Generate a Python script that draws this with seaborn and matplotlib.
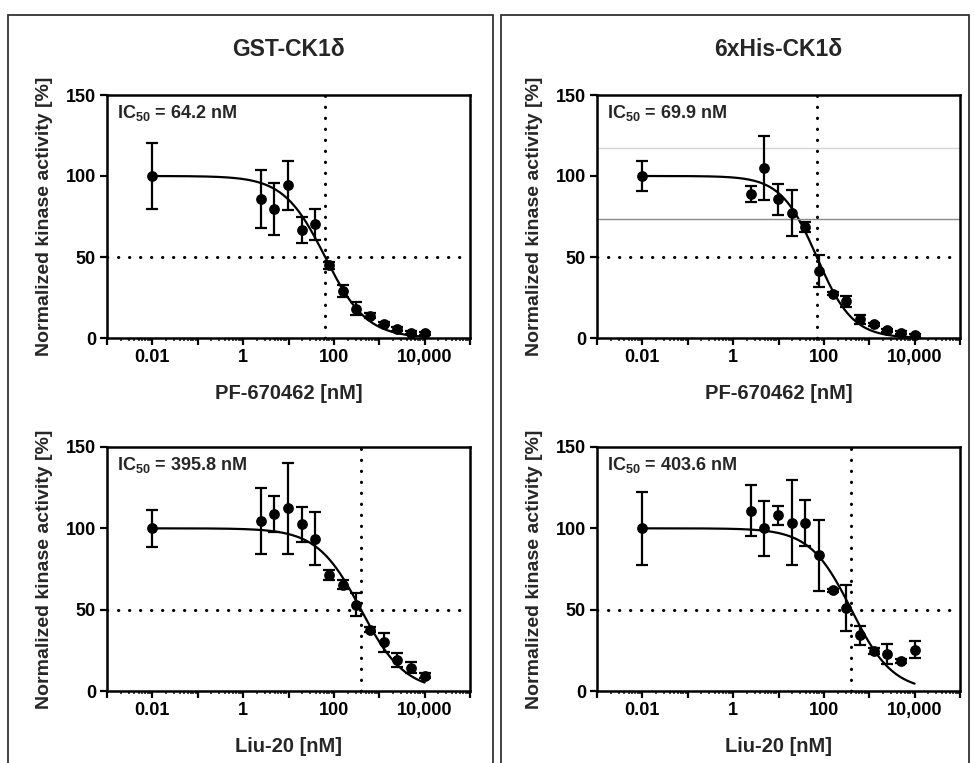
import numpy as np
import pandas as pd
import matplotlib
matplotlib.use("Agg")
import matplotlib.pyplot as plt
import matplotlib.ticker as mticker
from matplotlib.patches import Rectangle
import seaborn as sns

# concentrations (nM), 2-fold dilution series plus the 0.01 nM control
conc = [0.01, 2.44, 4.88, 9.77, 19.5, 39.1, 78.1, 156, 313, 625, 1250, 2500, 5000, 10000]

gst_pf = [100, 85.6, 79.4, 94.2, 66.9, 70.2, 44.9, 29.0, 18.1, 13.8, 8.8, 5.6, 3.3, 3.0]
gst_pf_err = [20.6, 17.8, 16.0, 15.3, 8.0, 9.4, 2.0, 3.5, 4.0, 1.5, 1.0, 1.0, 1.0, 1.0]
his_pf = [100, 89.1, 104.9, 85.6, 77.4, 68.5, 41.2, 27.4, 22.8, 11.5, 8.4, 4.7, 3.3, 1.6]
his_pf_err = [9.0, 5.0, 19.5, 9.4, 14.2, 2.8, 10.0, 1.0, 3.4, 3.0, 1.0, 1.0, 1.0, 1.0]
gst_liu = [100, 104.5, 108.6, 112.3, 102.5, 93.6, 71.2, 65.4, 53.1, 37.7, 30.0, 19.1, 14.4, 9.5]
gst_liu_err = [11.3, 20.0, 11.0, 27.8, 10.8, 16.2, 3.0, 3.0, 7.0, 1.5, 5.9, 4.5, 3.5, 1.5]
his_liu = [100, 110.7, 100, 108, 103.5, 103.5, 83.3, 61.9, 51.0, 34.2, 24.7, 22.8, 18.5, 25.3]
his_liu_err = [22.6, 15.7, 17.0, 5.9, 26.3, 14.2, 21.7, 1.0, 13.9, 5.9, 2.0, 6.0, 1.0, 5.3]

ic50 = [64.2, 69.9, 395.8, 403.6]
hill = [0.95, 1.1, 0.9, 0.95]
titles = ["GST-CK1δ", "6xHis-CK1δ"]
xlabels = ["PF-670462 [nM]", "PF-670462 [nM]", "Liu-20 [nM]", "Liu-20 [nM]"]
tick_labels = {0.01: "0.01", 1: "1", 100: "100", 10000: "10,000"}

sns.set_theme(style="ticks")
plt.rcParams["font.family"] = ["Liberation Sans", "DejaVu Sans"]
plt.rcParams["font.weight"] = "bold"
plt.rcParams["mathtext.fontset"] = "custom"
plt.rcParams["mathtext.rm"] = "Liberation Sans:bold"
plt.rcParams["mathtext.it"] = "Liberation Sans:bold"
plt.rcParams["mathtext.bf"] = "Liberation Sans:bold"

W, H = 974, 763
fig = plt.figure(figsize=(W / 100, H / 100), dpi=100)


def px_rect(x0, y0, x1, y1):
    return [x0 / W, 1 - y1 / H, (x1 - x0) / W, (y1 - y0) / H]


boxes = [(107, 95, 470, 338), (597, 95, 960, 338), (107, 447, 470, 691), (597, 447, 960, 691)]
series = [(gst_pf, gst_pf_err), (his_pf, his_pf_err), (gst_liu, gst_liu_err), (his_liu, his_liu_err)]

# outer panel frames
for x0, x1 in [(8, 493), (501, 969)]:
    fig.add_artist(Rectangle((x0 / W, -0.05), (x1 - x0) / W, 1.05 - 15 / H,
                             transform=fig.transFigure, fill=False,
                             edgecolor="#333333", linewidth=1.3, clip_on=False))

dotted = (0, (0.1, 3.5))

for i, (box, (vals, errs)) in enumerate(zip(boxes, series)):
    ax = fig.add_axes(px_rect(*box))
    df = pd.DataFrame({"conc": conc, "activity": vals, "err": errs})

    # fitted dose-response curve
    xs = np.logspace(np.log10(conc[0]), np.log10(conc[-1]), 300)
    fit = pd.DataFrame({"conc": xs, "activity": 100 / (1 + (xs / ic50[i]) ** hill[i])})
    sns.lineplot(data=fit, x="conc", y="activity", ax=ax, color="black", linewidth=1.6)

    if i == 1:
        ax.axhline(117.3, color="#d4d4d4", linewidth=1.0)
        ax.axhline(73.5, color="#8a8a8a", linewidth=1.0)

    ax.axhline(50, color="black", linewidth=2.2, linestyle=dotted, dash_capstyle="round")
    ax.axvline(ic50[i], color="black", linewidth=2.2, linestyle=dotted, dash_capstyle="round")

    ax.errorbar(df["conc"], df["activity"], yerr=df["err"], fmt="none", ecolor="black",
                elinewidth=1.6, capsize=4.2, capthick=1.6, clip_on=False)
    sns.scatterplot(data=df, x="conc", y="activity", ax=ax, color="black", s=60,
                    edgecolor="black", linewidth=0, zorder=5, clip_on=False)

    ax.set_xscale("log")
    ax.set_xlim(1e-3, 1e5)
    ax.set_ylim(0, 150)
    ax.set_yticks([0, 50, 100, 150])
    ax.xaxis.set_major_locator(mticker.LogLocator(base=10, numticks=20))
    ax.xaxis.set_minor_locator(mticker.LogLocator(base=10, subs=np.arange(2, 10), numticks=20))
    ax.xaxis.set_major_formatter(mticker.FuncFormatter(
        lambda v, p: tick_labels.get(round(v, 4) if v < 1 else int(round(v)), "")))
    ax.xaxis.set_minor_formatter(mticker.NullFormatter())

    ax.tick_params(axis="both", which="major", direction="out", length=5, width=1.6,
                   labelsize=13, pad=3, colors="black")
    ax.tick_params(axis="x", which="minor", direction="out", length=2.5, width=1.2)
    for sp in ax.spines.values():
        sp.set_linewidth(1.8)
        sp.set_color("black")

    ax.set_xlabel(xlabels[i], fontsize=14.5, fontweight="bold", labelpad=13)
    ax.set_ylabel("Normalized kinase activity [%]", fontsize=14, fontweight="bold", labelpad=9)
    if i < 2:
        ax.set_title(titles[i], fontsize=16.5, fontweight="bold", pad=28)

    ax.text(0.028, 0.925, "IC$_{50}$ = " + f"{ic50[i]:.1f} nM", transform=ax.transAxes,
            fontsize=13, fontweight="bold", ha="left", va="center")

fig.savefig("out.png", dpi=100)
